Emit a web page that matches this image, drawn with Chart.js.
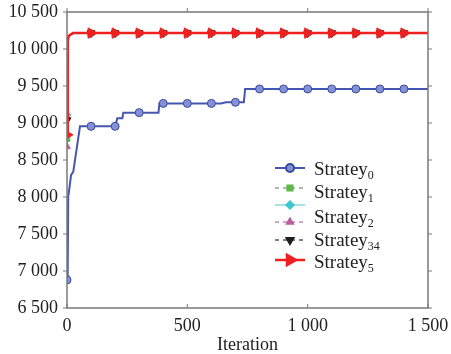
<!DOCTYPE html>
<html>
<head>
<meta charset="utf-8">
<script src="https://cdn.jsdelivr.net/npm/chart.js@4.4.1/dist/chart.umd.min.js"></script>
<style>
  html, body { margin: 0; padding: 0; background: #fff; }
  #wrap { width: 451px; height: 354px; position: relative; }
</style>
</head>
<body>
<div id="wrap"><canvas id="chart"></canvas></div>
<script>
// --- DATA ---
const xTicks = [0, 500, 1000, 1500];
const yTicks = [6500, 7000, 7500, 8000, 8500, 9000, 9500, 10000, 10500];

const s0Iter = [0, 3, 5, 17, 26, 54, 100, 200, 209, 230, 234, 300, 380, 384, 400, 500, 600, 640, 660, 700, 735, 740, 800, 900, 1000, 1100, 1200, 1300, 1400, 1500];
const s0Vals = [6880, 7000, 8000, 8300, 8340, 8955, 8955, 8955, 9065, 9065, 9140, 9140, 9140, 9265, 9265, 9265, 9265, 9265, 9280, 9280, 9280, 9460, 9460, 9460, 9460, 9460, 9460, 9460, 9460, 9460];

// Strategies 1..5 share the converged path; only the start differs
const convIter = [0, 3, 8, 25, 100, 200, 300, 400, 500, 600, 700, 800, 900, 1000, 1100, 1200, 1300, 1400, 1500];
const convVals = [10120, 10180, 10215, 10215, 10215, 10215, 10215, 10215, 10215, 10215, 10215, 10215, 10215, 10215, 10215, 10215, 10215, 10215];
const s1Start = 8790;
const s2aStart = 9110;
const s2Start = 8680;
const s34Start = 9040;
const s5Start = 8840;

const legendLabels = ['0', '1', '2', '34', '5'];

// --- HELPERS ---
function toPoints(xs, ys) { return xs.map((x, i) => ({ x: x, y: ys[i] })); }
function convPoints(start) { return toPoints(convIter, [start].concat(convVals)); }
function fmt(v) {
    if (v < 1000) return String(v);
    return Math.floor(v / 1000) + ' ' + String(v % 1000).padStart(3, '0');
}
function markerRadius(r) {
    return function (ctx) {
        const x = ctx.raw && ctx.raw.x;
        return (x % 100 === 0 && x < 1500) ? r : 0;
    };
}

const serif = '"Liberation Serif", "Times New Roman", serif';

const styles = [
    { color: '#4656b0', fill: '#8391d6', style: 'circle', r: 4, rot: 0, dash: [], lw: 2 },
    { color: '#8fa08f', fill: '#5cb84a', style: 'rect', r: 4, rot: 0, dash: [5, 4], lw: 1.5 },
    { color: '#8adada', fill: '#3cc8cc', style: 'rectRot', r: 4, rot: 0, dash: [], lw: 1.5 },
    { color: '#c88ab8', fill: '#b8609c', style: 'triangle', r: 4, rot: 0, dash: [6, 3, 2, 3], lw: 1.5 },
    { color: '#555555', fill: '#1e1e1e', style: 'triangle', r: 4.5, rot: 180, dash: [5, 4], lw: 1.5 },
    { color: '#ee2020', fill: '#ee2020', style: 'triangle', r: 6, rot: 90, dash: [], lw: 2.5 }
];

function makeSet(label, data, st, order) {
    return {
        label: label,
        data: data,
        borderColor: st.color,
        backgroundColor: st.fill,
        pointBackgroundColor: st.fill,
        pointBorderColor: st.style === 'circle' ? '#3a4a9a' : st.fill,
        pointBorderWidth: 1,
        pointStyle: st.style,
        rotation: st.rot,
        pointRadius: markerRadius(st.r),
        borderWidth: st.lw,
        borderDash: st.dash,
        tension: 0,
        fill: false,
        order: order
    };
}

// --- PLUGINS ---
const framePlugin = {
    id: 'frame',
    afterDatasetsDraw(chart) {
        const { ctx, chartArea: a, scales } = chart;
        ctx.save();
        ctx.strokeStyle = '#7a7a7a';
        ctx.lineWidth = 1.5;
        ctx.strokeRect(a.left, a.top, a.right - a.left, a.bottom - a.top);
        ctx.lineWidth = 1;
        ctx.beginPath();
        xTicks.forEach(v => {
            const px = scales.x.getPixelForValue(v);
            ctx.moveTo(px, a.bottom); ctx.lineTo(px, a.bottom - 4);
            ctx.moveTo(px, a.top); ctx.lineTo(px, a.top - 4);
        });
        yTicks.forEach(v => {
            const py = scales.y.getPixelForValue(v);
            ctx.moveTo(a.left, py); ctx.lineTo(a.left - 4, py);
            ctx.moveTo(a.right, py); ctx.lineTo(a.right + 4, py);
        });
        ctx.stroke();
        ctx.restore();
    }
};

const legendPlugin = {
    id: 'subLegend',
    afterDraw(chart) {
        const ctx = chart.ctx;
        const rows = [168, 188, 205, 222, 240, 260];
        const textRows = [170, 193, 218, 241, 263];
        ctx.save();
        styles.forEach((st, i) => {
            const y = rows[i];
            ctx.strokeStyle = st.color;
            ctx.lineWidth = st.lw;
            ctx.setLineDash(st.dash.length ? [4, 4] : []);
            ctx.beginPath();
            ctx.moveTo(275, y); ctx.lineTo(305, y);
            ctx.stroke();
            ctx.setLineDash([]);
            ctx.fillStyle = st.fill;
            ctx.strokeStyle = st.style === 'circle' ? '#3a4a9a' : st.fill;
            Chart.helpers.drawPoint(ctx, {
                pointStyle: st.style, radius: st.r, rotation: st.rot, borderWidth: 1
            }, 290, y);
        });
        ctx.fillStyle = '#222';
        ctx.textBaseline = 'middle';
        textRows.forEach((y, i) => {
            ctx.font = '19px ' + serif;
            ctx.fillText('Stratey', 314, y);
            const w = ctx.measureText('Stratey').width;
            ctx.font = '12px ' + serif;
            ctx.fillText(legendLabels[i], 314 + w, y + 6);
        });
        ctx.restore();
    }
};

// --- CHART ---
function draw() {
    new Chart(document.getElementById('chart'), {
        type: 'line',
        data: {
            datasets: [
                makeSet('Stratey0', toPoints(s0Iter, s0Vals), styles[0], 5),
                makeSet('Stratey1', convPoints(s1Start), styles[1], 4),
                makeSet('Stratey2a', convPoints(s2aStart), styles[2], 3),
                makeSet('Stratey2', convPoints(s2Start), styles[3], 2),
                makeSet('Stratey34', convPoints(s34Start), styles[4], 1),
                makeSet('Stratey5', convPoints(s5Start), styles[5], 0)
            ]
        },
        options: {
            responsive: true,
            maintainAspectRatio: false,
            animation: false,
            layout: { padding: { top: 12, left: 0, right: 0, bottom: 0 } },
            plugins: {
                legend: { display: false },
                tooltip: { enabled: false }
            },
            scales: {
                x: {
                    type: 'linear',
                    min: 0, max: 1500,
                    afterBuildTicks: (s) => { s.ticks = xTicks.map(v => ({ value: v })); },
                    afterFit: (s) => { s.height = 46; s.paddingLeft = 0; s.paddingRight = 23; },
                    grid: { display: false, drawTicks: false },
                    border: { display: false },
                    ticks: {
                        padding: 7,
                        color: '#222',
                        font: { family: serif, size: 18 },
                        callback: (v) => fmt(v),
                        maxRotation: 0
                    },
                    title: {
                        display: true,
                        text: 'Iteration',
                        color: '#222',
                        font: { family: serif, size: 18, lineHeight: 1.0 },
                        padding: 0
                    }
                },
                y: {
                    min: 6500, max: 10500,
                    afterBuildTicks: (s) => { s.ticks = yTicks.map(v => ({ value: v })); },
                    afterFit: (s) => { s.width = 67; s.paddingTop = 0; s.paddingBottom = 0; },
                    grid: { display: false, drawTicks: false },
                    border: { display: false },
                    ticks: {
                        padding: 9,
                        color: '#222',
                        font: { family: serif, size: 18 },
                        callback: (v) => fmt(v)
                    }
                }
            }
        },
        plugins: [framePlugin, legendPlugin]
    });
}

document.fonts.load('18px "Liberation Serif"').then(draw, draw);
</script>
</body>
</html>
